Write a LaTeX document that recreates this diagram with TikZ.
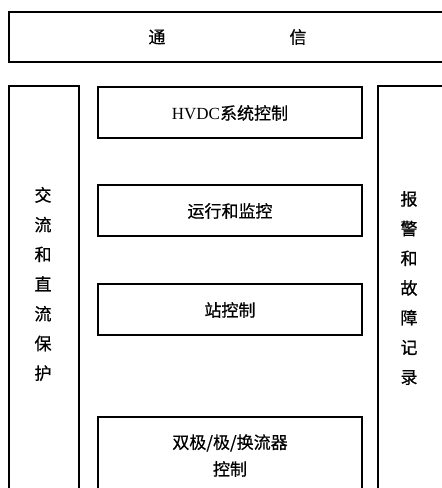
\documentclass[tikz,border=0pt]{standalone}
\usepackage{fontspec}
\setmainfont{Liberation Serif}
\newfontfamily\cjk[FakeBold=0.6]{Noto Sans CJK SC}
\begin{document}
\begin{tikzpicture}[x=1pt,y=-1pt,
  frame/.style={draw=black,line width=1.8pt},
  lbl/.style={font=\cjk\fontsize{17}{20}\selectfont,inner sep=0pt},
  vlbl/.style={font=\cjk\fontsize{17}{29.7}\selectfont,inner sep=0pt,align=center}]
\useasboundingbox (0,0) rectangle (442,488);
\clip (0,0) rectangle (442,488);
\fill[white] (0,0) rectangle (442,488);
% frames
\draw[frame] (9,12) rectangle (450,62);
\draw[frame] (9,86) rectangle (79,500);
\draw[frame] (378,86) rectangle (450,500);
\draw[frame] (98,87) rectangle (362,138);
\draw[frame] (98,185) rectangle (362,236);
\draw[frame] (98,284) rectangle (362,335);
\draw[frame] (98,417) rectangle (362,500);
% labels
\node[lbl] (t1) at (157,37) {通};
\node[lbl] (t2) at (298,37) {信};
\node[lbl] (b1) at (230,113) {\rmfamily\fontsize{17}{20}\selectfont HVDC{\cjk 系统控制}};
\node[lbl] (b2) at (230,211) {运行和监控};
\node[lbl] (b3) at (230,310) {站控制};
\node[lbl] (b4a) at (230,443) {双极/极/换流器};
\node[lbl] (b4b) at (230,469) {控制};
\node[vlbl] (left) at (43,284) {交\\流\\和\\直\\流\\保\\护};
\node[vlbl] (right) at (409,288) {报\\警\\和\\故\\障\\记\\录};
\end{tikzpicture}
\end{document}
